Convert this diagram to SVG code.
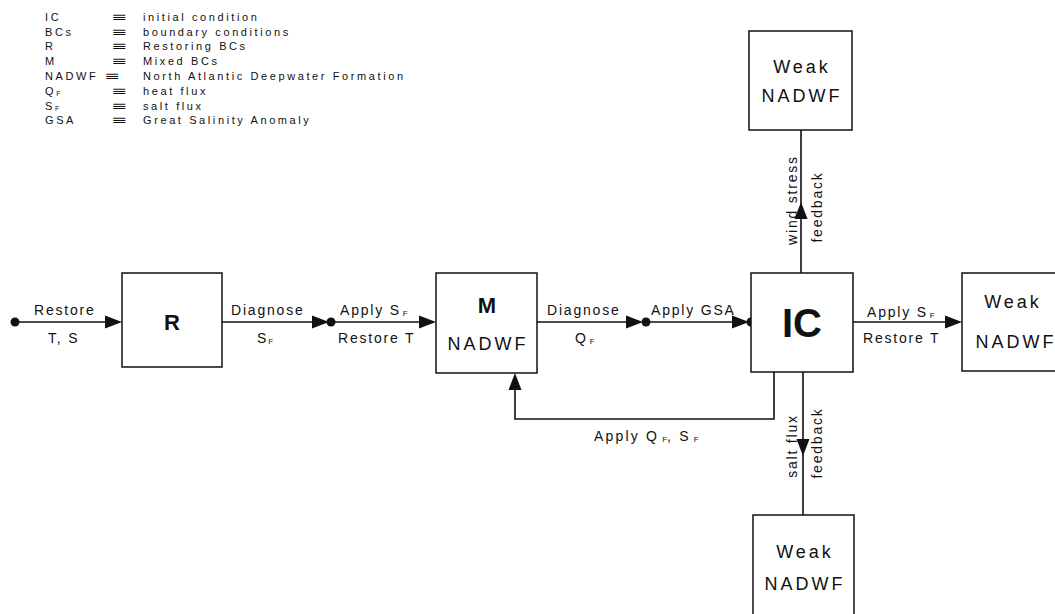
<svg xmlns="http://www.w3.org/2000/svg" width="1055" height="614" viewBox="0 0 1055 614">
<defs>
<style>
text{font-family:"Liberation Sans","DejaVu Sans",Arial,sans-serif;fill:#111}
.lg{font-size:11px;letter-spacing:2.6px}
.eq{font-size:12px;font-family:"DejaVu Sans",sans-serif}
.lb{font-size:14px;letter-spacing:1.8px}
.sub{font-size:8px;letter-spacing:0}
.bx{fill:#fff;stroke:#111;stroke-width:1.5}
.nt{font-size:18px;letter-spacing:3px;text-anchor:middle}
.big{font-weight:bold;text-anchor:middle}
.ln{fill:none;stroke:#111;stroke-width:1.6}
.ah{fill:#111}
</style>
</defs>
<g id="legend">
<text class="lg" x="45" y="21">IC</text><text class="eq" x="111" y="21" textLength="16" lengthAdjust="spacingAndGlyphs">≡</text><text class="lg" x="143" y="21">initial condition</text>
<text class="lg" x="45" y="36">BCs</text><text class="eq" x="111" y="36" textLength="16" lengthAdjust="spacingAndGlyphs">≡</text><text class="lg" x="143" y="36">boundary conditions</text>
<text class="lg" x="45" y="50">R</text><text class="eq" x="111" y="50" textLength="16" lengthAdjust="spacingAndGlyphs">≡</text><text class="lg" x="143" y="50">Restoring BCs</text>
<text class="lg" x="45" y="65">M</text><text class="eq" x="111" y="65" textLength="16" lengthAdjust="spacingAndGlyphs">≡</text><text class="lg" x="143" y="65">Mixed BCs</text>
<text class="lg" x="45" y="80">NADWF</text><text class="eq" x="104" y="80" textLength="16" lengthAdjust="spacingAndGlyphs">≡</text><text class="lg" x="143" y="80">North Atlantic Deepwater Formation</text>
<text class="lg" x="45" y="95">Q<tspan style="font-size:7px" dy="1">F</tspan></text><text class="eq" x="111" y="95" textLength="16" lengthAdjust="spacingAndGlyphs">≡</text><text class="lg" x="143" y="95">heat flux</text>
<text class="lg" x="45" y="110">S<tspan style="font-size:7px" dy="1">F</tspan></text><text class="eq" x="111" y="110" textLength="16" lengthAdjust="spacingAndGlyphs">≡</text><text class="lg" x="143" y="110">salt flux</text>
<text class="lg" x="45" y="124">GSA</text><text class="eq" x="111" y="124" textLength="16" lengthAdjust="spacingAndGlyphs">≡</text><text class="lg" x="143" y="124">Great Salinity Anomaly</text>
</g>
<g id="connectors">
<circle cx="15" cy="322" r="4.5" class="ah"/>
<line class="ln" x1="15" y1="322" x2="110" y2="322"/>
<polygon class="ah" points="122,322 105,315.5 105,328.5"/>
<text class="lb" x="34" y="315">Restore</text>
<text class="lb" x="48" y="343">T, S</text>
<line class="ln" x1="222" y1="322" x2="318" y2="322"/>
<polygon class="ah" points="329,322 312,315.5 312,328.5"/>
<circle cx="331" cy="322" r="4.5" class="ah"/>
<line class="ln" x1="331" y1="322" x2="424" y2="322"/>
<polygon class="ah" points="436,322 419,315.5 419,328.5"/>
<text class="lb" x="231" y="315">Diagnose</text>
<text class="lb" x="257" y="343">S<tspan class="sub" dy="1">F</tspan></text>
<text class="lb" x="340" y="315">Apply  S<tspan class="sub" dx="2" dy="1">F</tspan></text>
<text class="lb" x="338" y="343">Restore  T</text>
<line class="ln" x1="537" y1="322" x2="632" y2="322"/>
<polygon class="ah" points="643,322 626,315.5 626,328.5"/>
<circle cx="646" cy="322" r="4.5" class="ah"/>
<line class="ln" x1="646" y1="322" x2="737" y2="322"/>
<polygon class="ah" points="749,322 732,315.5 732,328.5"/>
<circle cx="751" cy="322" r="4.5" class="ah"/>
<text class="lb" x="547" y="315">Diagnose</text>
<text class="lb" x="575" y="343">Q<tspan class="sub" dx="2" dy="1">F</tspan></text>
<text class="lb" x="651" y="315">Apply  GSA</text>
<line class="ln" x1="853" y1="322" x2="950" y2="322"/>
<polygon class="ah" points="962,322 945,315.5 945,328.5"/>
<text class="lb" x="867" y="317">Apply  S<tspan class="sub" dx="2" dy="1">F</tspan></text>
<text class="lb" x="863" y="343">Restore  T</text>
<polyline class="ln" points="774,372 774,419 515,419 515,388"/>
<polygon class="ah" points="515,373 508.5,390 521.5,390"/>
<text class="lb" x="594" y="441" style="letter-spacing:2.2px">Apply  Q<tspan class="sub" dx="3" dy="1">F</tspan><tspan dy="-1">,  S</tspan><tspan class="sub" dx="3" dy="1">F</tspan></text>
<line class="ln" x1="801" y1="273" x2="801" y2="130"/>
<polygon class="ah" points="801,202 794.5,219 807.5,219"/>
<text class="lb" transform="translate(797,200) rotate(-90)" text-anchor="middle">wind stress</text>
<text class="lb" transform="translate(822,207) rotate(-90)" text-anchor="middle">feedback</text>
<line class="ln" x1="803" y1="372" x2="803" y2="515"/>
<polygon class="ah" points="803,456 796.5,439 809.5,439"/>
<text class="lb" transform="translate(797,446) rotate(-90)" text-anchor="middle">salt flux</text>
<text class="lb" transform="translate(822,443) rotate(-90)" text-anchor="middle">feedback</text>
</g>
<g id="node-R">
<rect class="bx" x="122" y="273" width="100" height="94"/>
<text class="big" x="172" y="330" style="font-size:22px">R</text>
</g>
<g id="node-M">
<rect class="bx" x="436" y="273" width="101" height="100"/>
<text class="big" x="487" y="313" style="font-size:22px">M</text>
<text class="nt" x="488" y="350">NADWF</text>
</g>
<g id="node-IC">
<rect class="bx" x="751" y="273" width="102" height="99"/>
<text class="big" x="802" y="337" style="font-size:40px">IC</text>
</g>
<g id="node-weak-top">
<rect class="bx" x="749" y="31" width="103" height="99"/>
<text class="nt" x="802" y="73">Weak</text>
<text class="nt" x="802" y="102">NADWF</text>
</g>
<g id="node-weak-right">
<rect class="bx" x="962" y="273" width="110" height="98"/>
<text class="nt" x="1013" y="308">Weak</text>
<text class="nt" x="1016" y="348">NADWF</text>
</g>
<g id="node-weak-bottom">
<rect class="bx" x="753" y="515" width="101" height="110"/>
<text class="nt" x="805" y="558">Weak</text>
<text class="nt" x="805" y="590">NADWF</text>
</g>
</svg>
